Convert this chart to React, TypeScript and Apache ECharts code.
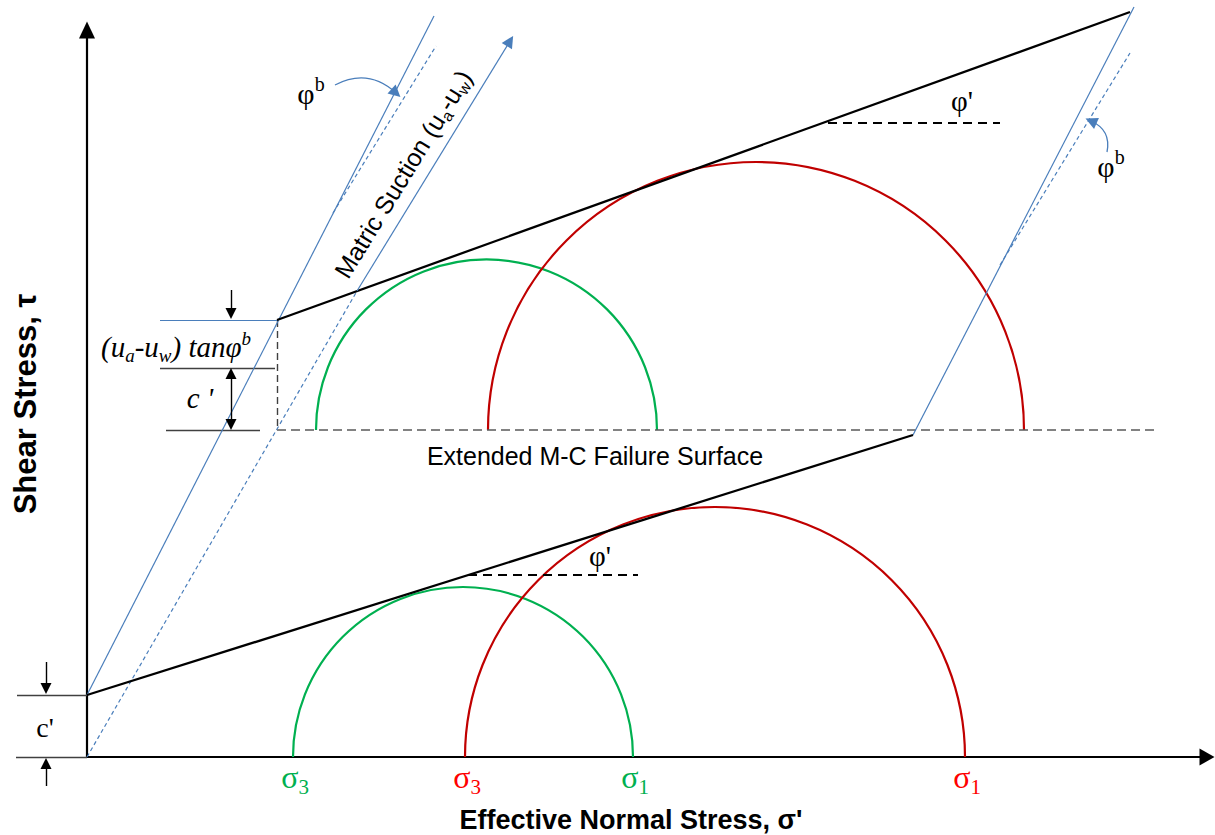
import React, { useEffect, useRef } from "react";
import * as echarts from "echarts";

// ---------------- data (diagram units: σ' to the right, τ upward, origin where the axes cross) ----------------
const AXIS_X_MAX = 1120;
const AXIS_Y_MAX = 727;

// Mohr circles: [lower set, upper (unsaturated) set]
const circleBase = [0, 327];
const sigma3Green = [206, 229];
const sigma1Green = [546, 570];
const sigma3Red = [378, 401];
const sigma1Red = [878, 937];

// failure envelopes and construction lines: [[σ, τ], [σ, τ]]
const lowerEnvelope = [[0, 62], [826, 322]];
const upperEnvelope = [[190, 437], [1043, 745]];
const phiBLineLeft = [[0, 62], [347, 741]];
const phiBLineRight = [[826, 322], [1047, 750]];
const phiBRefLeft = [[246, 544], [349, 711]];
const phiBRefRight = [[913, 492], [1043, 704]];
const suctionDashed = [[0, 0], [270, 466]];
const suctionArrow = [[270, 466], [423, 716]];
const extendedBase = [[190, 327], [1071, 327]];
const cornerDrop = [[190, 437], [190, 327]];
const dimSuctionTop = [[73, 437], [190, 437]];
const dimCTop = [[73, 389], [188, 389]];
const dimCBottom = [[79, 327], [173, 327]];
const dimLowerTop = [[-70, 62], [0, 62]];
const dimLowerBottom = [[-71, 0], [0, 0]];
const phiRefUpper = [[741, 634], [913, 634]];
const phiRefLower = [[381, 182], [551, 182]];

// dimension arrows
const arrowSuction = [[144, 467], [144, 443.5]];
const arrowCDouble = [[144, 383.5], [144, 332.5]];
const arrowLowerDown = [[-41, 95], [-41, 68.5]];
const arrowLowerUp = [[-41, -29], [-41, -6.5]];
const curveArrowLeft = [[248, 672], [309, 664]];
const curveArrowRight = [[1020, 605], [1004, 636]];

// ---------------- styles ----------------
const BLACK = "#000000";
const GREEN = "#00B050";
const RED = "#C00000";
const LABEL_RED = "#FF0000";
const BLUE = "#4A7EBB";
const GRAY = "#595959";
const SANS = '"Liberation Sans", Arial, sans-serif';
const SERIF = '"Liberation Serif", "Times New Roman", serif';

const seg = (coords: number[][], color: string, width: number, dash?: number[], curveness = 0) => ({
  coords,
  lineStyle: { color, width, type: dash ? dash : "solid", curveness, opacity: 1 },
});

const subRich = (size: number, subSize: number, font: string, italic = false) => {
  const fs = italic ? "italic" : "normal";
  const lh = Math.round(size * 1.25);
  return {
    m: { fontSize: size, fontFamily: font, fontStyle: fs, lineHeight: lh },
    s: { fontSize: subSize, fontFamily: font, fontStyle: fs, lineHeight: subSize, verticalAlign: "bottom" },
    p: { fontSize: subSize, fontFamily: font, fontStyle: fs, lineHeight: subSize, verticalAlign: "top" },
  };
};

const text = (x: number, y: number, t: string, font: string, fill: string, rotation = 0) => ({
  type: "text",
  x,
  y,
  rotation,
  z: 100,
  style: { text: t, font, fill, align: "center", verticalAlign: "middle" },
});

const richText = (x: number, y: number, t: string, rich: any, fill: string, rotation = 0) => ({
  type: "text",
  x,
  y,
  rotation,
  z: 100,
  style: { text: t, rich, fill, align: "center", verticalAlign: "middle" },
});

export default function App() {
  const ref = useRef<HTMLDivElement>(null);

  useEffect(() => {
    if (!ref.current) return;
    const chart = echarts.init(ref.current, undefined, { renderer: "svg" });

    const circles = [0, 1].flatMap((i) => [
      { value: [sigma3Green[i], sigma1Green[i], circleBase[i]], itemStyle: { color: GREEN } },
      { value: [sigma3Red[i], sigma1Red[i], circleBase[i]], itemStyle: { color: RED } },
    ]);

    const sigmaRich = subRich(32, 21, SERIF);
    const phiBRich = subRich(30, 20, SERIF);
    const italicRich = subRich(29, 19, SERIF, true);
    const sansRich = subRich(25, 16, SANS);

    chart.setOption({
      animation: false,
      backgroundColor: "#ffffff",
      grid: { left: 87, right: 8, top: 30, bottom: 78 },
      xAxis: {
        type: "value",
        min: 0,
        max: AXIS_X_MAX,
        axisLine: { show: true, lineStyle: { color: BLACK, width: 2.2 }, symbol: ["none", "triangle"], symbolSize: [17, 15] },
        axisTick: { show: false },
        axisLabel: { show: false },
        splitLine: { show: false },
      },
      yAxis: {
        type: "value",
        min: 0,
        max: AXIS_Y_MAX,
        axisLine: { show: true, lineStyle: { color: BLACK, width: 2.2 }, symbol: ["none", "triangle"], symbolSize: [16, 17] },
        axisTick: { show: false },
        axisLabel: { show: false },
        splitLine: { show: false },
      },
      series: [
        {
          type: "custom",
          clip: false,
          data: circles,
          renderItem: (params: any, api: any) => {
            const s3 = api.value(0);
            const s1 = api.value(1);
            const base = api.value(2);
            const c = api.coord([(s3 + s1) / 2, base]);
            const r = api.size([(s1 - s3) / 2, 0])[0];
            return {
              type: "arc",
              shape: { cx: c[0], cy: c[1], r, startAngle: Math.PI, endAngle: 2 * Math.PI, clockwise: true },
              style: { stroke: api.visual("color"), fill: "none", lineWidth: 2.2 },
            };
          },
        },
        {
          type: "lines",
          coordinateSystem: "cartesian2d",
          clip: false,
          symbol: ["none", "none"],
          z: 3,
          data: [
            seg(extendedBase, GRAY, 1.6, [9, 5]),
            seg(cornerDrop, "#404040", 1.4, [7, 4]),
            seg(dimSuctionTop, BLUE, 1.2),
            seg(dimCTop, "#404040", 1.4),
            seg(dimCBottom, "#404040", 1.4),
            seg(dimLowerTop, "#404040", 1.4),
            seg(dimLowerBottom, "#404040", 1.4),
            seg(phiBLineLeft, BLUE, 1.2),
            seg(phiBLineRight, BLUE, 1.2),
            seg(phiBRefLeft, BLUE, 1.2, [4, 3]),
            seg(phiBRefRight, BLUE, 1.2, [4, 3]),
            seg(suctionDashed, BLUE, 1.2, [4, 3]),
            seg(lowerEnvelope, BLACK, 2.3),
            seg(upperEnvelope, BLACK, 2.3),
            seg(phiRefUpper, BLACK, 2, [9, 6]),
            seg(phiRefLower, BLACK, 2, [9, 6]),
          ],
        },
        {
          type: "lines",
          coordinateSystem: "cartesian2d",
          clip: false,
          symbol: ["none", "triangle"],
          symbolSize: 11,
          z: 4,
          data: [
            seg(arrowSuction, BLACK, 1.4),
            seg(arrowLowerDown, BLACK, 1.4),
            seg(arrowLowerUp, BLACK, 1.4),
          ],
        },
        {
          type: "lines",
          coordinateSystem: "cartesian2d",
          clip: false,
          symbol: ["triangle", "triangle"],
          symbolSize: 11,
          z: 4,
          data: [seg(arrowCDouble, BLACK, 1.4)],
        },
        {
          type: "lines",
          coordinateSystem: "cartesian2d",
          clip: false,
          symbol: ["none", "triangle"],
          symbolSize: 12,
          z: 4,
          data: [
            seg(suctionArrow, BLUE, 1.2),
            seg(curveArrowLeft, BLUE, 1.3, undefined, 0.35),
            seg(curveArrowRight, BLUE, 1.3, undefined, -0.4),
          ],
        },
      ],
      graphic: [
        text(25, 404, "Shear Stress, τ", `bold 31px ${SANS}`, BLACK, Math.PI / 2),
        text(631, 820, "Effective Normal Stress, σ'", `bold 27px ${SANS}`, BLACK),
        text(595, 456, "Extended M-C Failure Surface", `25px ${SANS}`, BLACK),
        richText(403, 174, "{m|Matric Suction (u}{s|a}{m|-u}{s|w}{m|)}", sansRich, BLACK, 1.02),
        richText(311, 93, "{m|φ}{p|b}", phiBRich, BLACK),
        richText(1111, 166, "{m|φ}{p|b}", phiBRich, BLACK),
        text(962, 101, "φ'", `29px ${SERIF}`, BLACK),
        text(600, 556, "φ'", `29px ${SERIF}`, BLACK),
        richText(176, 347, "{m|(u}{s|a}{m|-u}{s|w}{m|) tanφ}{p|b}", italicRich, BLACK),
        text(200, 398, "c '", `italic 29px ${SERIF}`, BLACK),
        text(45, 727, "c'", `28px ${SERIF}`, BLACK),
        richText(295, 777, "{m|σ}{s|3}", sigmaRich, GREEN),
        richText(467, 777, "{m|σ}{s|3}", sigmaRich, LABEL_RED),
        richText(635, 777, "{m|σ}{s|1}", sigmaRich, GREEN),
        richText(967, 777, "{m|σ}{s|1}", sigmaRich, LABEL_RED),
      ],
    });

    return () => chart.dispose();
  }, []);

  return <div ref={ref} style={{ position: "fixed", left: 0, top: 0, width: 1215, height: 835, background: "#fff" }} />;
}
